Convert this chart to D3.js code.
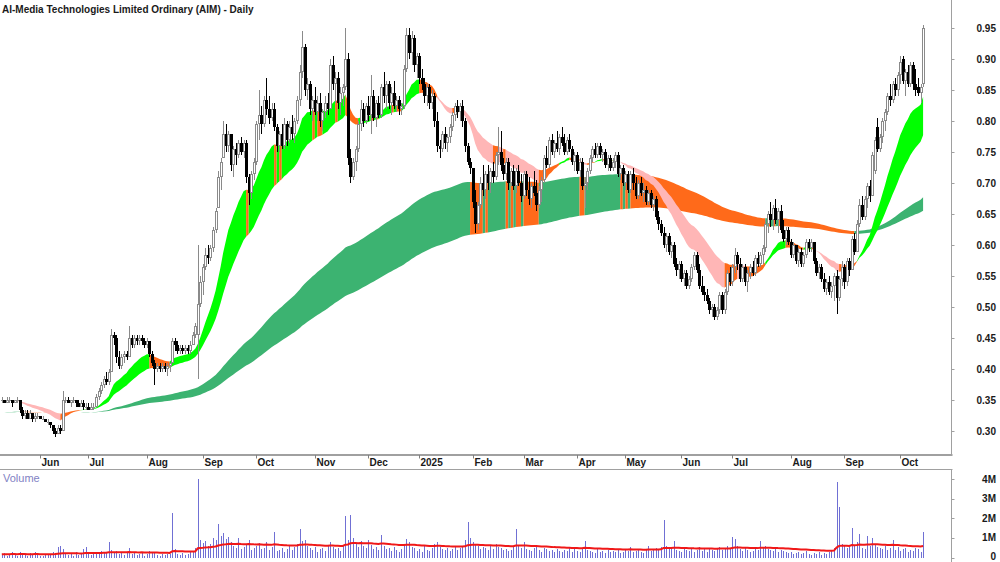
<!DOCTYPE html>
<html>
<head>
<meta charset="utf-8">
<script src="https://cdnjs.cloudflare.com/ajax/libs/d3/7.8.5/d3.min.js"></script>
<style>
  body { margin: 0; background: #fff; }
  svg { display: block; }
  text { font-family: "Liberation Sans", Arial, sans-serif; }
</style>
</head>
<body>
<script>
// trading calendar
const startDate = '2024-05-13';
const holidays = ['2024-06-10', '2024-12-25', '2024-12-26', '2025-01-01', '2025-01-27',
  '2025-04-18', '2025-04-21', '2025-04-25', '2025-06-09'];

// daily candles [open, high, low, close] in cents
const candles = [
  // May 2024
  [35,35.5,34.5,35],[35,35,34.5,34.5],[34.5,35.5,34.5,35],[35,35.5,34.5,35],[35,35,34,34.5],
  [34.5,35,34.5,35],[35,35.5,34.5,35],[35,35,33,33.5],[33.5,34,32,32.5],[32.5,33.5,32,33],
  [33,33.5,32,32],[32,33.5,32,33],[33,33,31.5,32],[32,33,31.5,32.5],[32.5,33,32,32.5],
  // Jun
  [32.5,32.5,32,32],[32,32.5,32,32],[32,32,31.5,31.5],[31.5,32,31,31.5],[31.5,31.5,30.5,31],
  [31,31,29.5,30],[30,30.5,29,29.5],[29.5,31,29.5,30.5],[30.5,31,29.5,30],[30,36.5,30,35],
  [35,35.5,34.5,35],[35,35.5,34.5,34.5],[34.5,35,34,35],[35,35.5,34.5,35],[35,35,34,34.5],
  [34.5,35,34,34],[34,35,34,34.5],[34.5,35,33.5,34],[34,34.5,33.5,34],
  // Jul
  [34,34.5,33.5,33.5],[33.5,34.5,33.5,34],[34,34.5,33.5,34],[34,36,34,35.5],[35.5,37,35,36.5],
  [36.5,38,36,37.5],[37.5,39,37,38.5],[38.5,39.5,37.5,38],[38,40,37.5,39.5],[39.5,46.5,39.5,45.5],
  [45.5,46,44,45],[45,45.5,41,42],[42,43,40,40.5],[40.5,42.5,40,42],[42,43,41,42.5],
  [42.5,43,41.5,42],[42,47,42,45],[45,45.5,43.5,44],[44,45.5,43.5,45],[45,45.5,44,44.5],
  [44.5,45.5,44,45],[45,45.5,44,44.5],[44.5,45,43.5,44],
  // Aug
  [44,45,43.5,44.5],[44.5,44.5,42,42.5],[42.5,43,40.5,41],[41,41.5,37.5,40],[40,41,39.5,40.5],
  [40.5,41,39.5,40],[40,41,39.5,40.5],[40.5,41,39.5,40],[40,41,39,40.5],[40.5,41,39.5,41],
  [41,45,41,44.5],[44.5,45,43,44],[44,44.5,42.5,43],[43,44,42.5,43.5],[43.5,44,42.5,43],
  [43,44,42.5,43.5],[43.5,44,42.5,43],[43,44.5,42.5,44],[44,46,44,45.5],[45.5,47.5,45,47],
  [45.5,60,38.5,50.5],[50.5,55,50,54],
  // Sep
  [54,57,52,56.5],[56.5,59.5,56,58.5],[58.5,60,57,58],[58,60,57.5,59.5],[59.5,63,59,62.5],
  [62.5,66,62,65.5],[66,72,66,71],[71,74,69,73.5],[74,80,74,78],[78,79.5,75,76],
  [76,78.5,75,78],[78,78,72,73],[73,76,71,75.5],[75.5,76.5,73,74.5],[74.5,77,74,76.5],
  [76.5,77.5,74.5,75],[75,77,74,76.5],[76.5,77,70,71],[71,71.5,66.5,68.5],[68.5,72,67.5,71.5],
  [71.5,74,70.5,73.5],
  // Oct
  [73.5,80,73,79.5],[79.5,85,77,81],[81,82.5,78,79.5],[79.5,84,79,83.5],[83.5,87,81,82],
  [82,84,79.5,80.5],[80.5,83,80,82],[82,83,78.5,79],[79,79.5,75,76],[76,78.5,75,78],
  [78,79.5,75.5,76],[76,80.5,75.5,79.5],[79.5,80,76,77],[77,80,76.5,79],[79,81,77,78],
  [78,80.5,76.5,80],[80,84,79.5,83.5],[83.5,89,82.5,88],[88,94.5,87,92],[92,92.5,84,85],
  [85,87,83.5,86],[86,86.5,81,82],[82,84,80,83.5],
  // Nov
  [83.5,85.5,81,81.5],[81.5,84,80,83],[83,84.5,79,80],[80,82,78.5,81.5],[81.5,84,80.5,83],
  [83,84.5,81,82],[82,90,82,89],[89,90.5,85,86],[86,88,83,87],[87,88,82,83],
  [83,85.5,81,84.5],[84.5,86,82.5,85.5],[85.5,95,85,90],[90,91,73,74],[74,75.5,70,71],
  [71,74,70.5,73.5],[73.5,76,72,75.5],[75.5,80,75,79.5],[79.5,83.5,78.5,82],[82,83,79,80],
  [80,83,79.5,82.5],
  // Dec
  [82.5,84,80,81],[81,87.5,78,84],[84,85,80,80.5],[80.5,83.5,79,83],[83,84,80.5,81],
  [81,86,80.5,85.5],[85.5,88,83,84],[84,86.5,82,86],[86,86.5,82,83],[83,85.5,81,84.5],
  [84.5,86.5,82,82.5],[82.5,84,81.5,83.5],[83.5,84,81,82],[82,83,81,82.5],[82.5,89,82,88.5],
  [88.5,95,88,94],[94,95,90,91],[91,94.5,89,93.5],[93.5,94,88,89],[89,91,87,90.5],
  // Jan 2025
  [90.5,91,86,87],[87,88.5,85,86],[86,87,83,84],[84,86,82.5,85.5],[85.5,86,82,83],
  [83,85,82,84],[84,84.5,79,80],[80,81.5,75,76],[76,77,74,75.5],[75.5,78.5,75,78],
  [78,79,75.5,76.5],[76.5,78,75,77.5],[77.5,79.5,76.5,79],[79,81.5,78.5,81],[81,83,80,82.5],
  [82.5,83.5,80.5,81.5],[81.5,83,80,82.5],[82.5,83.5,79,80],[80,80.5,75,76],[76,76.5,73,73.5],
  [73.5,74,71.5,72.5],
  // Feb
  [72.5,72.5,66,67],[67,69,62,63.5],[63.5,67,62.5,66.5],[66.5,71,66,70],[70,73,68,69],
  [69,72,67.5,71.5],[71.5,73,69,70],[70,72.5,68.5,72],[72,73.5,70,71],[71,75,70.5,74.5],
  [74.5,79,73,75],[75,78.5,72,73],[73,74,70.5,71.5],[71.5,74,70.5,73.5],[73.5,74,69,70],
  [70,72.5,69.5,72],[72,73,69,69.5],[69.5,72.5,68.5,72],[72,73,69.5,70],[70,71.5,67,68],
  // Mar
  [68,72,67.5,71.5],[71.5,72,68,69],[69,71,66.5,67.5],[67.5,70,66,69.5],[69.5,72,68,68.5],
  [68.5,70.5,65.5,66.5],[66.5,69.5,66,69],[69,71,67,70.5],[70.5,74.5,70,74],[74,76,72.5,73],
  [73,77.5,72.5,77],[77,78,74.5,75],[75,77,74,76.5],[76.5,78.5,75,75.5],[75.5,78,74.5,77.5],
  [77.5,79,76,76.5],[76.5,78,74.5,75],[75,77.5,74.5,77],[77,78,75,75.5],[75.5,76,73,73.5],
  [73.5,75,72,74.5],
  // Apr
  [74.5,75,71.5,72],[72,74,71,73.5],[73.5,74,69,69.5],[69.5,71,66,70],[70,72.5,69,72],
  [72,74.5,71.5,74],[74,76,73.5,75.5],[75.5,76.5,74,74.5],[74.5,76.5,74,76],[76,76.5,74,74.5],
  [74.5,75.5,73.5,75],[75,75.5,72.5,73],[73,74.5,72,74],[74,74.5,72,72.5],[72.5,74,72,73.5],
  [73.5,75,72.5,74.5],[74.5,75,71,71.5],[71.5,73,70.5,72.5],[72.5,73,69.5,70],
  // May
  [70,72,69,71.5],[71.5,72,68.5,69],[69,72,68.5,71.5],[71.5,72.5,69,70],[70,71,67.5,68],
  [68,70.5,67.5,70],[70,71,68,68.5],[68.5,70,67,69],[69,69.5,66.5,67],[67,69,66.5,68.5],
  [68.5,69,66,66.5],[66.5,68,65.5,67.5],[67.5,68,64,64.5],[64.5,65.5,62.5,63.5],[63.5,64,61.5,62],
  [62,63,59.5,60],[60,62,59,61.5],[61.5,62,58.5,59],[59,60.5,58,60],[60,60.5,56.5,57],
  [57,58,55,56],[56,57.5,54.5,57],
  // Jun
  [57,57.5,54,54.5],[54.5,56,53.5,55.5],[55.5,56,53,53.5],[53.5,55,53,54.5],[54.5,57,54,56.5],
  [56.5,59,56,58.5],[58.5,59,55.5,56],[56,57,53,53.5],[53.5,55,52,52.5],[52.5,53.5,51,52],
  [52,53,50.5,51],[51,51.5,49,49.5],[49.5,50.5,48.5,50],[50,50.5,48,48.5],[48.5,50,48,49.5],
  [49.5,52.5,49,52],[52,52.5,49,49.5],[49.5,53,49,52.5],[52.5,56,52,55.5],[55.5,56.5,53.5,54],
  // Jul
  [54,57,53.5,56.5],[56.5,59.5,55.5,58.5],[58.5,59,56,57],[57,58,54,54.5],[54.5,57,54,56.5],
  [56.5,57,53.5,54],[54,56,52.5,55.5],[55.5,57,54.5,56.5],[56.5,57.5,55,55.5],[55.5,58.5,55,58],
  [58,59,56.5,57],[57,59,56.5,58.5],[58.5,60,57,59.5],[59.5,64,59,63.5],[63.5,65.5,62,65],
  [65,67,63,64],[64,66.5,62.5,66],[66,67.5,63.5,64],[64,66,62,65.5],[65.5,66.5,62,62.5],
  [62.5,64,60.5,61],[61,63,60,62.5],[62.5,63,60,60.5],
  // Aug
  [60.5,61,58,58.5],[58.5,60.5,58,60],[60,60,57,57.5],[57.5,59.5,56.5,59],[59,59.5,56.5,57],
  [57,59,56.5,58.5],[58.5,61,58,60.5],[60.5,61,59,59.5],[59.5,61,59,60.5],[60.5,60.5,57,57.5],
  [57.5,58,55,55.5],[55.5,57,54.5,56.5],[56.5,57,54,54.5],[54.5,55.5,52.5,53],[53,54.5,52,54],
  [54,55,52,52.5],[52.5,54,51.5,53.5],[53.5,55.5,51,55],[55,56,49,51.5],[51.5,55,51,54.5],
  [54.5,57.5,53.5,56.5],
  // Sep
  [56.5,57,53,54],[54,58,53.5,57.5],[57.5,58,55,56],[56,61.5,56,61],[61,62,58.5,59],
  [59,64,59,63.5],[63.5,67.5,63,66.5],[66.5,68,64,64.5],[64.5,68,64,67.5],[67.5,70,66,69.5],
  [69.5,70.5,67,68],[68,75,68,74.5],[72,77.5,71.5,77],[79,80.5,75,75.5],[75.5,78,75,77.5],
  [77.5,80.5,76.5,80],[80,82,78.5,81.5],[81.5,84.5,81,84],[84,86,82.5,83.5],[83.5,86.5,83,86],
  [86,87,84,85],[85,88,84,87.5],
  // Oct
  [87.5,90.5,86,89.5],[90,90.5,86,86.5],[86.5,88.5,84,88],[88,89,85.5,86],[86,89.5,85.5,89],
  [89,89.5,85,86],[86,88.5,84,85],[85.5,87,84,84.5],[84.5,86,83,85.5],[86,95.5,85.5,95]
];

// daily volume, millions
const volume = [
  .15,.22,.1,.18,.3,.12,.08,.28,.2,.14, .1,.22,.12,.3,.15,.1,.08,.14,.2,.12,
  .3,.22,.55,.6,.45,.2,.15,.25,.1,.3, .12,.2,.45,.55,.18,.12,.3,.25,.2,.35,
  .3,.25,.8,.4,.28,.35,.2,.3,.15,.22, .5,.2,.25,.12,.18,.3,.1,.2,.35,.25,
  .3,.15,.1,.2,.12,.18,.2,2.25,.45,.2, .15,.25,.12,.2,.3,.35,.5,4.0,.9,.75,
  .85,.6,.7,1.0,.9,1.7,1.1,1.25,.95,1.05, .8,.6,.5,1.0,.45,.55,.7,.9,.4,.5,
  .6,.75,.45,.5,.8,.4,.55,1.3,.35,.4, .5,.3,.45,.6,.4,.55,.7,1.45,.85,.9,
  .6,.5,.4,.55,.3,.45,.5,.35,.6,.8, .55,.45,.5,.35,.6,2.1,.9,2.15,1.0,.75,
  .55,.85,.6,.5,.9,.65,.45,.55,.4,1.15, .6,.45,.5,.35,.55,.4,.3,.45,.7,.95,
  .8,.55,.5,.35,.45,.3,.6,.4,.35,.5, .7,.8,.55,.45,.4,.5,.35,.45,.6,.4,
  .5,.55,.9,1.8,1.0,.8,.7,.6,.45,.55, .5,.4,.6,.45,.7,.55,.5,.4,.45,.35,
  .4,.55,1.45,.6,.5,.8,.45,.4,.35,.5, .55,.4,.3,.5,.45,.35,.4,.3,.45,.35,
  .3,.4,.35,.5,.3,.45,.35,.3,.5,.85, .4,.35,.3,.25,.45,.3,.35,.25,.4,.3,
  .35,.3,.45,.25,.3,.4,.35,.55,.3,.35, .4,.3,.25,.45,.6,.35,.4,.5,.45,.55,
  1.9,.6,.5,.45,.85,.4,.35,.3,.55,.4, .35,.45,.3,.4,.55,.35,.5,.3,.45,.4,
  .35,.5,.55,.4,.45,.6,.5,1.05,.95,.6, .45,.35,.5,.4,.3,.35,.45,.4,.85,.5,
  .6,.45,.4,.35,.5,.3,.4,.35,.3,.25, .3,.2,.25,.3,.2,.25,.35,.2,.15,.25,
  .2,.3,.15,.25,.2,.3,.35,.5,3.85,2.55, .7,.6,.5,.55,1.5,.6,.8,1.2,.5,.45,
  1.1,.6,1.0,.7,.55,.5,.45,.6,.4,.5, .9,.4,.55,.35,.45,.5,.3,.4,.35,.5,
  .45,.3,1.3
];

const priceTicks = [0.30, 0.35, 0.40, 0.45, 0.50, 0.55, 0.60, 0.65, 0.70, 0.75, 0.80, 0.85, 0.90, 0.95];
const volumeTicks = [0, 1, 2, 3, 4];
const volumeTickLabels = ['0', '1M', '2M', '3M', '4M'];

// multiple moving averages (exponential, days)
const fastPeriods = [18, 21, 24, 27, 31, 35];
const slowPeriods = [150, 165, 180, 200, 220, 245];
const fastSeed = 0.35;
const slowSeed = 0.33;
const volumeSeed = 0.17;
const volumeAvgPeriod = 45;

const width = 1000, height = 562;
const axisX = 951.5;

const svg = d3.select('body').append('svg')
  .attr('width', width)
  .attr('height', height);

// dates for each candle
const fmtDay = d3.utcFormat('%Y-%m-%d');
const holidaySet = new Set(holidays);
const dates = [];
let day = d3.utcParse('%Y-%m-%d')(startDate);
while (dates.length < candles.length) {
  const wd = day.getUTCDay();
  if (wd !== 0 && wd !== 6 && !holidaySet.has(fmtDay(day))) dates.push(day);
  day = d3.utcDay.offset(day, 1);
}

const n = candles.length;
const xScale = d3.scaleLinear()
  .domain([0, n - 1])
  .range([1.8, 1.8 + 2.545 * (n - 1)]);

const yScale = d3.scaleLinear()
  .domain([0.30, 0.95])
  .range([431.3, 28.3]);

const vScale = d3.scaleLinear()
  .domain([0, 4])
  .range([557.5, 479]);

const closes = candles.map(c => c[3] / 100);

const ema = (values, period, seed) => {
  const k = 2 / (period + 1);
  let prev = seed;
  return values.map(v => (prev = prev + k * (v - prev)));
};

const fastEmas = fastPeriods.map(p => ema(closes, p, fastSeed));
const slowEmas = slowPeriods.map(p => ema(closes, p, slowSeed));

const colours = {
  lime: '#00ff00',
  sea: '#3cb371',
  orange: '#ff6a1a',
  pink: '#ffb6b6'
};

function bandColours(emas, green, usePink) {
  const s = emas[0], l = emas[emas.length - 1];
  return s.map((v, i) => {
    const rising = i === 0 ? true : v >= s[i - 1];
    if (v > l[i] && rising) return green;
    if (usePink && v < l[i] && !rising) return colours.pink;
    return colours.orange;
  });
}

function drawBand(g, emas, cols) {
  const top = closes.map((_, i) => d3.max(emas, e => e[i]));
  const bot = closes.map((_, i) => d3.min(emas, e => e[i]));
  const area = d3.area()
    .x(i => xScale(i))
    .y0(i => yScale(bot[i]))
    .y1(i => yScale(top[i]));
  // group consecutive days with the same colour
  let start = 0;
  for (let i = 1; i < n; i++) {
    const last = i === n - 1 || cols[i + 1] !== cols[i];
    if (last) {
      g.append('path')
        .attr('d', area(d3.range(start, i + 1)))
        .attr('fill', cols[i]);
      start = i;
    }
  }
}

// plot area clip
svg.append('clipPath').attr('id', 'plot')
  .append('rect').attr('x', 0).attr('y', 0).attr('width', axisX).attr('height', 454);

const plot = svg.append('g').attr('clip-path', 'url(#plot)');

drawBand(plot.append('g'), slowEmas, bandColours(slowEmas, colours.sea, false));
drawBand(plot.append('g'), fastEmas, bandColours(fastEmas, colours.lime, true));

// candles
const candleG = plot.append('g').attr('shape-rendering', 'crispEdges');
candles.forEach((c, i) => {
  const [o, h, l, cl] = c.map(v => v / 100);
  const cx = Math.round(xScale(i));
  const up = cl >= o;
  const col = up ? '#8a8a8a' : '#000';
  const yHi = Math.round(yScale(h)), yLo = Math.round(yScale(l));
  const yTop = Math.round(yScale(Math.max(o, cl))), yBot = Math.round(yScale(Math.min(o, cl)));
  candleG.append('rect')
    .attr('x', cx).attr('y', yHi)
    .attr('width', 1).attr('height', Math.max(1, yLo - yHi))
    .attr('fill', col);
  const bh = Math.max(1, yBot - yTop);
  candleG.append('rect')
    .attr('x', cx - 1).attr('y', yTop)
    .attr('width', 3).attr('height', bh)
    .attr('fill', col);
  if (up && bh > 2) {
    candleG.append('rect')
      .attr('x', cx).attr('y', yTop + 1)
      .attr('width', 1).attr('height', bh - 2)
      .attr('fill', '#fff');
  }
});

// frame lines
const axisCol = '#a0a0a0';
svg.append('line')
  .attr('x1', axisX).attr('x2', axisX).attr('y1', 0).attr('y2', 455)
  .attr('stroke', axisCol);
svg.append('line')
  .attr('x1', axisX).attr('x2', axisX).attr('y1', 469).attr('y2', height)
  .attr('stroke', axisCol);
svg.append('line')
  .attr('x1', 0).attr('x2', axisX + 1).attr('y1', 455).attr('y2', 455)
  .attr('stroke', axisCol).attr('stroke-width', 2);
svg.append('line')
  .attr('x1', 0).attr('x2', axisX + 1).attr('y1', 469.5).attr('y2', 469.5)
  .attr('stroke', axisCol);

// price axis
const priceAxis = svg.append('g');
priceTicks.forEach(p => {
  const y = yScale(p);
  priceAxis.append('line')
    .attr('x1', axisX).attr('x2', axisX + 3).attr('y1', Math.round(y) + 0.5).attr('y2', Math.round(y) + 0.5)
    .attr('stroke', axisCol);
  priceAxis.append('text')
    .attr('x', 996).attr('y', y + 3.6)
    .attr('text-anchor', 'end')
    .attr('font-size', 10).attr('font-weight', 'bold').attr('fill', '#1a1a1a')
    .text(d3.format('.2f')(p));
});

// month ticks
const monthG = svg.append('g');
dates.forEach((d, i) => {
  if (i === 0 || d.getUTCMonth() === dates[i - 1].getUTCMonth()) return;
  const x = Math.round(xScale(i)) + 0.5;
  monthG.append('line')
    .attr('x1', x).attr('x2', x).attr('y1', 455).attr('y2', 458.5)
    .attr('stroke', '#808080');
  monthG.append('text')
    .attr('x', x + 1).attr('y', 466)
    .attr('font-size', 10).attr('font-weight', 'bold').attr('fill', '#1a1a1a')
    .text(d.getUTCMonth() === 0 ? d3.utcFormat('%Y')(d) : d3.utcFormat('%b')(d));
});

// title
svg.append('text')
  .attr('x', 2).attr('y', 13.3)
  .attr('font-size', 10).attr('font-weight', 'bold').attr('fill', '#1a1a1a')
  .text('AI-Media Technologies Limited Ordinary (AIM) - Daily');

// volume panel
const volG = svg.append('g').attr('shape-rendering', 'crispEdges');
volume.forEach((v, i) => {
  const y = vScale(v);
  volG.append('rect')
    .attr('x', Math.round(xScale(i))).attr('y', y)
    .attr('width', 1).attr('height', vScale(0) - y)
    .attr('fill', '#7070d4');
});

const volAvg = ema(volume, volumeAvgPeriod, volumeSeed);
svg.append('path')
  .attr('d', d3.line().x((_, i) => xScale(i)).y(v => vScale(v))(volAvg))
  .attr('fill', 'none')
  .attr('stroke', '#f01818')
  .attr('stroke-width', 2);

svg.append('text')
  .attr('x', 3).attr('y', 482)
  .attr('font-size', 11).attr('fill', '#8282c4')
  .text('Volume');

volumeTicks.forEach((t, k) => {
  const y = vScale(t);
  svg.append('line')
    .attr('x1', axisX).attr('x2', axisX + 3).attr('y1', Math.round(y) + 0.5).attr('y2', Math.round(y) + 0.5)
    .attr('stroke', axisCol);
  svg.append('text')
    .attr('x', 996).attr('y', Math.min(y + 3.6, 560))
    .attr('text-anchor', 'end')
    .attr('font-size', 10).attr('font-weight', 'bold').attr('fill', '#1a1a1a')
    .text(volumeTickLabels[k]);
});
</script>
</body>
</html>
